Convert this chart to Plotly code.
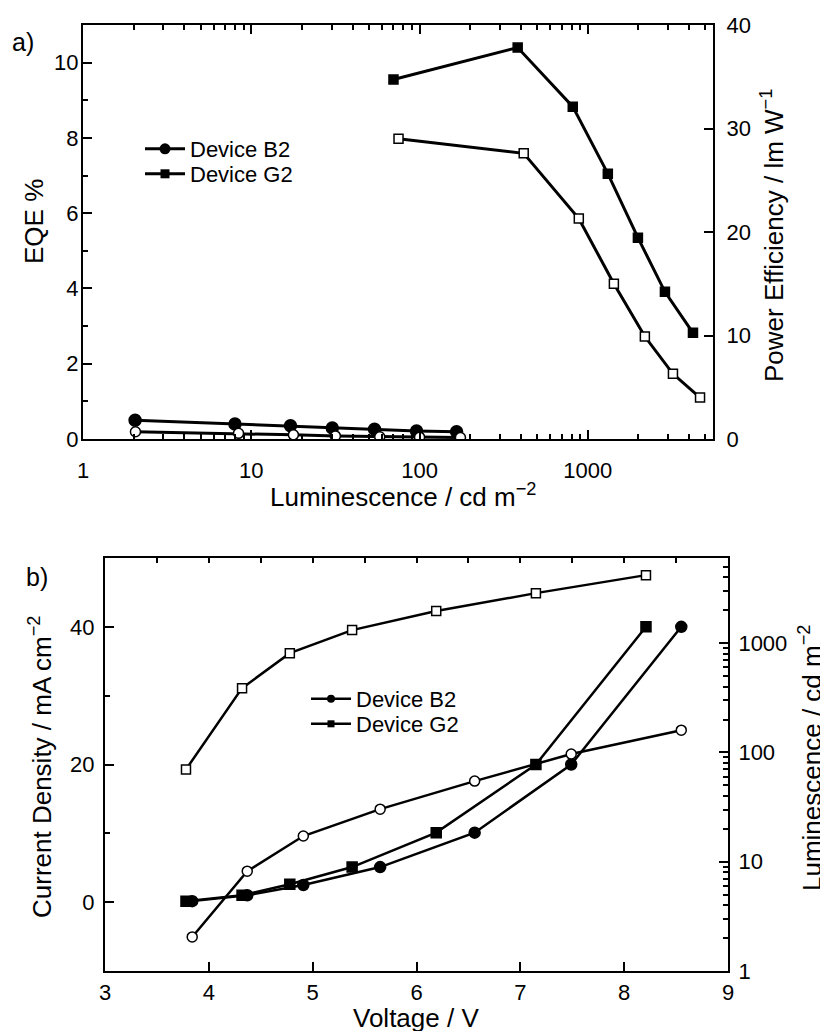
import plotly.graph_objects as go

# ---------------- data: panel a) ----------------
b2_lum_eqe = [2.04, 8.0, 17.1, 30.3, 54, 96, 166]
b2_eqe = [0.50, 0.40, 0.35, 0.29, 0.26, 0.21, 0.19]
b2_lum_pe = [2.05, 8.4, 17.8, 31.6, 58, 100, 175]
b2_pe = [0.70, 0.55, 0.40, 0.30, 0.22, 0.18, 0.14]

g2_lum_eqe = [70, 383, 814, 1315, 1985, 2873, 4217]
g2_eqe = [9.55, 10.4, 8.83, 7.05, 5.35, 3.91, 2.82]
g2_lum_pe = [75, 416, 884, 1429, 2183, 3206, 4645]
g2_pe = [29.0, 27.6, 21.3, 15.0, 9.9, 6.3, 4.0]

# ---------------- data: panel b) ----------------
volt_b2 = [3.84, 4.37, 4.91, 5.65, 6.56, 7.49, 8.55]
j_b2 = [0.15, 1.0, 2.5, 5.1, 10.1, 20.0, 40.0]
lum_b2 = [2.05, 8.2, 17.2, 30.3, 54.7, 96.7, 160]

volt_g2 = [3.78, 4.32, 4.78, 5.38, 6.19, 7.15, 8.21]
j_g2 = [0.15, 1.0, 2.6, 5.1, 10.1, 20.0, 40.0]
lum_g2 = [70, 388, 811, 1318, 1968, 2873, 4200]

# ---------------- tick labels ----------------
log_major = [1, 10, 100, 1000]
log_major_text = ["1", "10", "100", "1000"]
log_minor = [m * d for d in [1, 10, 100, 1000] for m in range(2, 10)]
series_names = ["Device B2", "Device G2"]

FONT = "Liberation Sans, Arial, sans-serif"
K = "black"

# the page body has an 8 px margin: lay out in window pixels
OFF = 8
W, H = 828 - OFF, 1031 - OFF

def px(x):
    return (x - OFF) / W

def py(y):
    return 1 - (y - OFF) / H

fig = go.Figure()

def line_trace(x, y, xa, ya, symbol, size, filled, lw):
    return go.Scatter(
        x=x, y=y, xaxis=xa, yaxis=ya, mode="lines+markers",
        line=dict(color=K, width=lw),
        marker=dict(symbol=symbol, size=size, color=K if filled else "white",
                    line=dict(color=K, width=1.5)),
        showlegend=False, hoverinfo="skip")

# panel a
fig.add_trace(line_trace(b2_lum_pe, b2_pe, "x", "y2", "circle", 10, False, 3))
fig.add_trace(line_trace(b2_lum_eqe, b2_eqe, "x", "y", "circle", 12, True, 3))
fig.add_trace(line_trace(g2_lum_pe, g2_pe, "x", "y2", "square", 9, False, 3))
fig.add_trace(line_trace(g2_lum_eqe, g2_eqe, "x", "y", "square", 9, True, 3))

# panel b
fig.add_trace(line_trace(volt_g2, lum_g2, "x2", "y4", "square", 9, False, 2.5))
fig.add_trace(line_trace(volt_b2, lum_b2, "x2", "y4", "circle", 10, False, 2.5))
fig.add_trace(line_trace(volt_g2, j_g2, "x2", "y3", "square", 10, True, 2.5))
fig.add_trace(line_trace(volt_b2, j_b2, "x2", "y3", "circle", 11, True, 2.5))

# top tick helper axis for panel b
fig.add_trace(go.Scatter(x=[None], y=[None], xaxis="x3", yaxis="y3",
                         showlegend=False, hoverinfo="skip"))

# legend entries (one legend per row for tight spacing)
for name, sym, sz, lg in zip(series_names, ["circle", "square"], [11, 9],
                             ["legend", "legend2"]):
    fig.add_trace(go.Scatter(x=[None], y=[None], xaxis="x", yaxis="y",
                             mode="lines+markers", name=name,
                             line=dict(color=K, width=3),
                             marker=dict(symbol=sym, size=sz, color=K),
                             legend=lg))
for name, sym, sz, lg in zip(series_names, ["circle", "square"], [8, 7],
                             ["legend3", "legend4"]):
    fig.add_trace(go.Scatter(x=[None], y=[None], xaxis="x2", yaxis="y3",
                             mode="lines+markers", name=name,
                             line=dict(color=K, width=2.5),
                             marker=dict(symbol=sym, size=sz, color=K),
                             legend=lg))

tickfont = dict(family=FONT, size=22, color=K)
common = dict(showline=True, linecolor=K, linewidth=2, showgrid=False,
              zeroline=False, ticks="inside", ticklen=9, tickwidth=1.5,
              tickcolor=K, tickfont=tickfont, automargin=False)

top_dom = [py(439), py(25)]
bot_dom = [py(971), py(558)]

def legend_at(x, y):
    return dict(x=px(x), y=py(y), xanchor="left", yanchor="top",
                bgcolor="rgba(0,0,0,0)", font=dict(family=FONT, size=22, color=K),
                tracegroupgap=0, itemwidth=40)

fig.update_layout(
    width=W, height=H,
    margin=dict(l=0, r=0, t=0, b=0),
    paper_bgcolor="white", plot_bgcolor="white",
    font=dict(family=FONT, color=K),
    xaxis=dict(common, type="log", range=[0, 3.744], domain=[px(83), px(713)],
               anchor="y", mirror="ticks", tickmode="array",
               tickvals=log_major, ticktext=log_major_text, ticklabelstandoff=11,
               minor=dict(tickmode="array", tickvals=log_minor, ticks="inside",
                          ticklen=5, tickwidth=1.5, tickcolor=K)),
    yaxis=dict(common, range=[0, 11], domain=top_dom, anchor="x",
               tick0=0, dtick=2, ticklabelstandoff=-2,
               minor=dict(dtick=1, ticks="inside", ticklen=5, tickwidth=1.5,
                          tickcolor=K)),
    yaxis2=dict(common, range=[0, 40], overlaying="y", side="right",
                anchor="x", tick0=0, dtick=10, ticklabelstandoff=7),
    xaxis2=dict(common, range=[3, 9], domain=[px(105), px(728)],
                anchor="y3", tick0=3, dtick=1, mirror=True, ticklabelstandoff=1),
    xaxis3=dict(range=[3, 9], overlaying="x2", side="top", anchor="y3",
                showline=False, showgrid=False, zeroline=False, automargin=False,
                ticks="inside", ticklen=5, tickwidth=1.5, tickcolor=K,
                tick0=3, dtick=0.5, showticklabels=False),
    yaxis3=dict(common, range=[-10, 50], domain=bot_dom, anchor="x2",
                tick0=0, dtick=20, ticklabelstandoff=4,
                minor=dict(dtick=10, ticks="inside", ticklen=5, tickwidth=1.5,
                           tickcolor=K)),
    yaxis4=dict(common, type="log", range=[0, 3.78], overlaying="y3",
                side="right", anchor="x2", tickmode="array",
                tickvals=log_major, ticktext=log_major_text, ticklabelstandoff=4,
                minor=dict(tickmode="array", tickvals=log_minor, ticks="inside",
                           ticklen=5, tickwidth=1.5, tickcolor=K)),
    legend=legend_at(140, 128),
    legend2=legend_at(140, 153),
    legend3=legend_at(306, 678),
    legend4=legend_at(306, 703),
)

def ann(text, x, y, size=26, angle=0):
    fig.add_annotation(text=text, x=px(x), y=py(y), xref="paper",
                       yref="paper", showarrow=False, textangle=angle,
                       font=dict(family=FONT, size=size, color=K),
                       xanchor="center", yanchor="middle")

ann("a)", 23, 42, size=25)
ann("b)", 37, 577, size=25)
ann("Luminescence / cd m<sup>−2</sup>", 403, 495)
ann("EQE %", 34, 222, angle=-90)
ann("Power Efficiency / lm W<sup>−1</sup>", 772, 236, angle=-90)
ann("Current Density / mA cm<sup>−2</sup>", 40, 767, angle=-90)
ann("Luminescence / cd m<sup>−2</sup>", 810, 758, angle=-90)
ann("Voltage / V", 416, 1018)

fig.write_html("out.html")
